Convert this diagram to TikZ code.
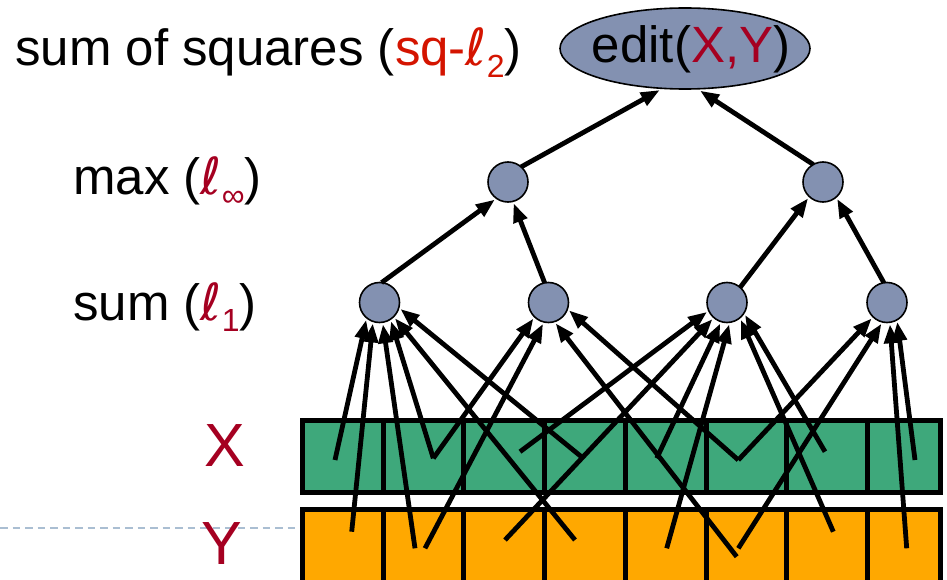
\documentclass[tikz,border=0pt]{standalone}
\usepackage{fontspec}
\setmainfont{Liberation Sans}
\newfontfamily\ellfont{DejaVu Sans}
\usetikzlibrary{arrows.meta,shapes.geometric}

\definecolor{nodeblue}{RGB}{131,145,177}
\definecolor{cellgreen}{RGB}{62,168,123}
\definecolor{cellorange}{RGB}{255,168,0}
\definecolor{labelred}{RGB}{165,0,33}
\definecolor{brightred}{RGB}{212,20,0}
\definecolor{guideblue}{RGB}{170,190,210}

% script ell with a lowered subscript
\newcommand{\normsub}[1]{{\ellfont ℓ}\raisebox{-0.22em}{\fontsize{32}{36}\selectfont #1}}

\begin{document}
\begin{tikzpicture}[x=1pt,y=-1pt,
  agg/.style={circle,draw=black,line width=1.6pt,fill=nodeblue,
    minimum size=40pt,inner sep=0pt,outer sep=0pt},
  edge/.style={line width=4.8pt,-{Triangle[length=19pt,width=14pt]},shorten >=2pt},
  biglabel/.style={font=\fontsize{51}{60}\selectfont,inner sep=0pt,anchor=base west},
  seqlabel/.style={font=\fontsize{61}{70}\selectfont,inner sep=0pt,anchor=base,text=labelred},
  cell/.style={line width=5pt,draw=black},
  guide/.style={draw=guideblue,line width=2pt,dash pattern=on 7.5pt off 5pt}
]
\useasboundingbox (0,0) rectangle (947,580);
\clip (0,0) rectangle (947,580);

% dashed guide line behind the Y label
\coordinate (g0) at (0,528.3);
\coordinate (g1) at (296.7,528.3);
\draw[guide] (g0) -- (g1);

% level labels
\node[biglabel] (lsq) at (15,66) {sum of squares (\textcolor{brightred}{sq-\normsub{2}})};
\node[biglabel] (lmax) at (73,195) {max (\textcolor{labelred}{\normsub{∞}})};
\node[biglabel] (lsum) at (73,320) {sum (\textcolor{labelred}{\normsub{1}})};
\node[seqlabel] (lx) at (225,466.7) {X};
\node[seqlabel] (ly) at (222,564) {Y};

% the two strings, eight cells each
\foreach \a/\b in {302.5/383.5,383.5/463,463/544,544/625,625/706,706/786,786/867,867/940}{
  \filldraw[cell,fill=cellgreen] (\a,420) rectangle (\b,492);
  \filldraw[cell,fill=cellorange] (\a,509) rectangle (\b,600);
}

% aggregation nodes
\node[ellipse,draw=black,line width=1.6pt,fill=nodeblue,minimum width=250pt,
  minimum height=81pt,inner sep=0pt] (root) at (685,48.5) {};
\node[font=\fontsize{51}{60}\selectfont,inner sep=0pt,anchor=base] (rootlabel) at (691,63)
  {edit(\textcolor{labelred}{X,Y})};
\node[agg] (max1) at (508,182) {};
\node[agg] (max2) at (823,182) {};
\node[agg] (sum1) at (379.5,302.5) {};
\node[agg] (sum2) at (548.5,302.5) {};
\node[agg] (sum3) at (727,302.5) {};
\node[agg] (sum4) at (887,302.5) {};

% upper levels
\draw[edge] (max1.49) -- (root.240);
\draw[edge] (max2.119) -- (root.288);
\draw[edge] (sum1.84) -- (max1.235);
\draw[edge] (sum2.101) -- (max1.284);
\draw[edge] (sum3.49) -- (max2.227);
\draw[edge] (sum4.99) -- (max2.311);

% cell end points of the coordinate differences
\coordinate (x1) at (335,460);    \coordinate (y1) at (351.7,531.7);
\coordinate (x2) at (433.3,458.3); \coordinate (y2a) at (415,548.3);
\coordinate (y2b) at (425,548.3);
\coordinate (x3) at (520,451.7);  \coordinate (y3) at (505,540);
\coordinate (x4) at (583.3,458.3); \coordinate (y4) at (575,540);
\coordinate (x5) at (656.7,458.3); \coordinate (y5) at (666.7,548.3);
\coordinate (x6) at (738.3,460);  \coordinate (y6a) at (736.7,556.7);
\coordinate (y6b) at (738.3,548.3);
\coordinate (x7) at (825,451.7);  \coordinate (y7) at (833.3,531.7);
\coordinate (x8) at (915,460);    \coordinate (y8) at (906.7,548.3);

% first sum
\draw[edge] (x1) -- (sum1.230);
\draw[edge] (y1) -- (sum1.251);
\draw[edge] (y2a) -- (sum1.279);
\draw[edge] (x2) -- (sum1.303);
\draw[edge] (y4) -- (sum1.315);
\draw[edge] (x4) -- (sum1.345);
% second sum
\draw[edge] (x2) -- (sum2.226);
\draw[edge] (y2b) -- (sum2.257);
\draw[edge] (y6a) -- (sum2.287);
\draw[edge] (x6) -- (sum2.341);
% third sum
\draw[edge] (x3) -- (sum3.204);
\draw[edge] (y3) -- (sum3.229);
\draw[edge] (x5) -- (sum3.253);
\draw[edge] (y5) -- (sum3.278);
\draw[edge] (y7) -- (sum3.310);
\draw[edge] (x7) -- (sum3.328);
% fourth sum
\draw[edge] (x6) -- (sum4.226);
\draw[edge] (y6b) -- (sum4.257);
\draw[edge] (y8) -- (sum4.278);
\draw[edge] (x8) -- (sum4.300);
\end{tikzpicture}
\end{document}
